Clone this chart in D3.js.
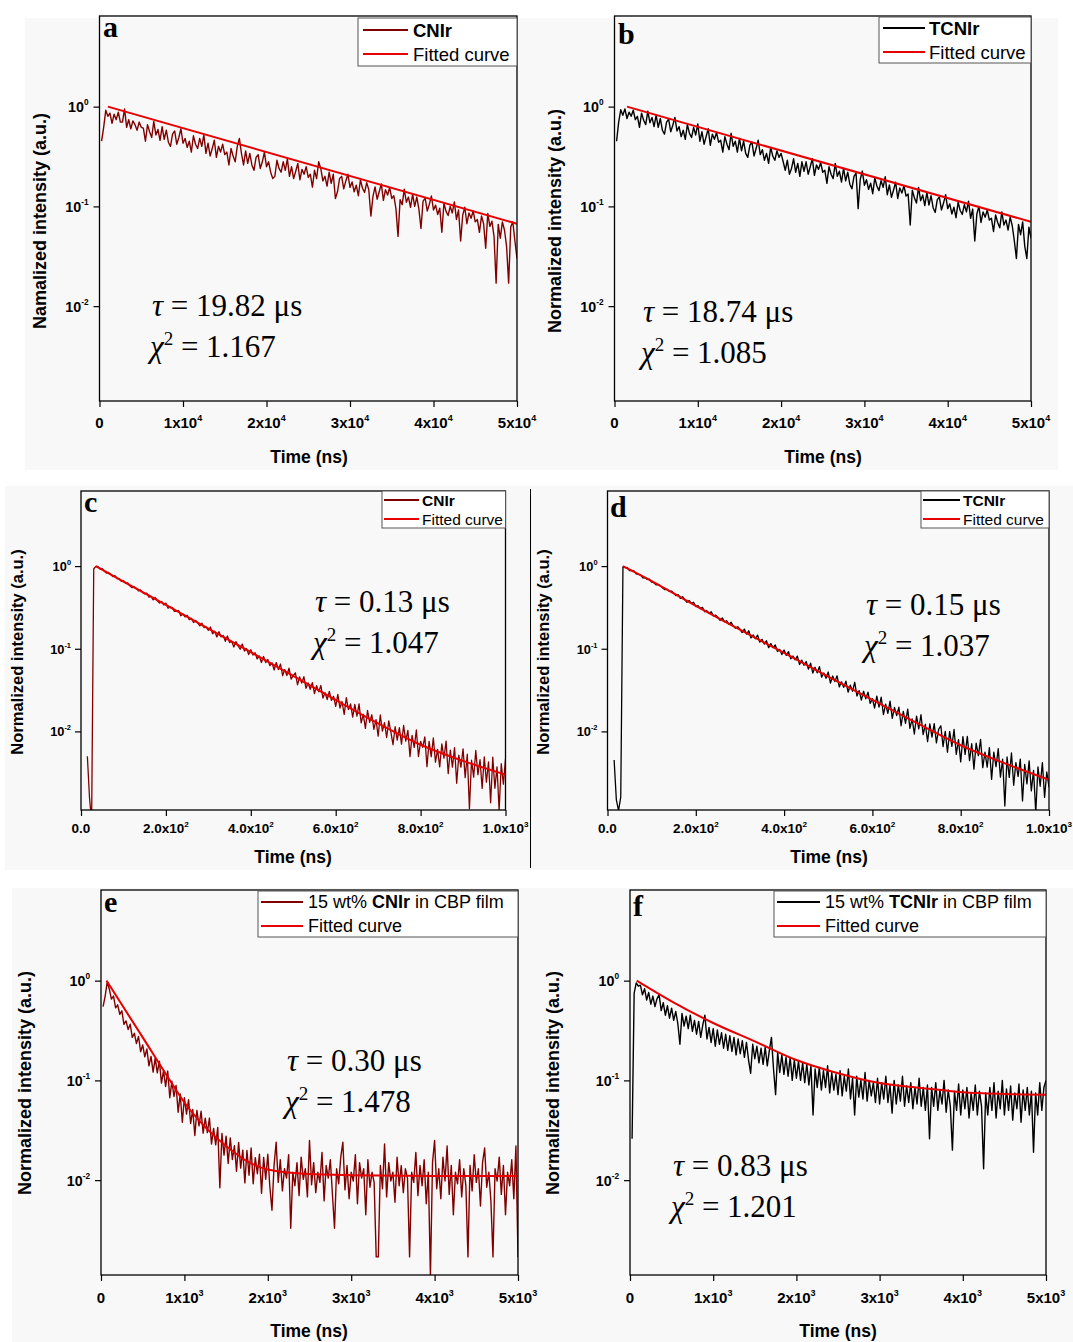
<!DOCTYPE html>
<html>
<head>
<meta charset="utf-8">
<script src="https://cdn.jsdelivr.net/npm/d3@7"></script>
<style>
  body { margin: 0; background: #fff; }
  svg text { font-family: "Liberation Sans", Arial, sans-serif; }
</style>
</head>
<body>
<svg id="fig" width="1073" height="1342"></svg>
<script>
const SERIF = '"Liberation Serif", "Times New Roman", serif';
const DARK_RED = "#800000";
const FIT_RED = "#e60000";

// shared log axis (normalized intensity)
const yTicks = [1, 0.1, 0.01];
const yTickExp = ["0", "-1", "-2"];
const yDomain = [1.12e-3, 8.1];

// time axes
const xTicksAB = [0, 1e4, 2e4, 3e4, 4e4, 5e4];
const xTickTextAB = [["0", ""], ["1x10", "4"], ["2x10", "4"], ["3x10", "4"], ["4x10", "4"], ["5x10", "4"]];
const xTicksCD = [0, 200, 400, 600, 800, 1000];
const xTickTextCD = [["0.0", ""], ["2.0x10", "2"], ["4.0x10", "2"], ["6.0x10", "2"], ["8.0x10", "2"], ["1.0x10", "3"]];
const xTicksEF = [0, 1000, 2000, 3000, 4000, 5000];
const xTickTextEF = [["0", ""], ["1x10", "3"], ["2x10", "3"], ["3x10", "3"], ["4x10", "3"], ["5x10", "3"]];

// a: CNIr, channels every 250 ns from 250 ns
const decayA = [
  0.45, 0.62, 0.92, 0.80, 0.86, 0.68, 0.84, 0.74, 0.88, 0.70,
  0.70, 0.95, 0.62, 0.74, 0.60, 0.72, 0.66, 0.58, 0.70, 0.62,
  0.61, 0.45, 0.66, 0.56, 0.49, 0.71, 0.52, 0.59, 0.46, 0.63,
  0.47, 0.58, 0.44, 0.40, 0.53, 0.57, 0.42, 0.49, 0.60, 0.43,
  0.48, 0.39, 0.45, 0.35, 0.51, 0.42, 0.38, 0.48, 0.40, 0.52,
  0.34, 0.43, 0.32, 0.38, 0.46, 0.31, 0.40, 0.35, 0.42, 0.33,
  0.35, 0.26, 0.38, 0.32, 0.28, 0.40, 0.48, 0.34, 0.26, 0.36,
  0.27, 0.34, 0.26, 0.23, 0.31, 0.33, 0.24, 0.28, 0.35, 0.25,
  0.28, 0.22, 0.19, 0.20, 0.29, 0.24, 0.22, 0.28, 0.23, 0.30,
  0.20, 0.25, 0.19, 0.225, 0.27, 0.185, 0.235, 0.21, 0.25, 0.195,
  0.21, 0.156, 0.23, 0.19, 0.28, 0.24, 0.18, 0.20, 0.16, 0.22,
  0.17, 0.21, 0.12, 0.14, 0.19, 0.20, 0.15, 0.18, 0.21, 0.155,
  0.176, 0.14, 0.163, 0.128, 0.184, 0.152, 0.138, 0.173, 0.147, 0.08,
  0.126, 0.157, 0.118, 0.14, 0.168, 0.115, 0.147, 0.13, 0.154, 0.12,
  0.128, 0.095, 0.05, 0.117, 0.104, 0.149, 0.11, 0.124, 0.098, 0.133,
  0.10, 0.124, 0.094, 0.06, 0.113, 0.121, 0.09, 0.105, 0.127, 0.092,
  0.103, 0.083, 0.096, 0.055, 0.108, 0.089, 0.081, 0.10, 0.086, 0.111,
  0.074, 0.092, 0.045, 0.082, 0.098, 0.067, 0.086, 0.076, 0.09, 0.07,
  0.074, 0.055, 0.08, 0.067, 0.038, 0.085, 0.063, 0.071, 0.05, 0.017,
  0.066, 0.048, 0.07, 0.058, 0.04, 0.017, 0.062, 0.07, 0.045, 0.03
];
const fitATime = [1000, 50000];
const fitAValue = [1.0, 0.067];

// b: TCNIr, channels every 250 ns from 250 ns
const decayB = [
  0.45, 0.70, 0.93, 0.82, 0.95, 0.76, 0.88, 0.80, 0.92, 0.74,
  0.80, 0.62, 0.86, 0.73, 0.66, 0.90, 0.69, 0.78, 0.63, 0.82,
  0.62, 0.76, 0.58, 0.53, 0.70, 0.75, 0.56, 0.65, 0.78, 0.57,
  0.63, 0.50, 0.58, 0.47, 0.66, 0.54, 0.49, 0.62, 0.52, 0.67,
  0.45, 0.56, 0.42, 0.50, 0.60, 0.41, 0.53, 0.47, 0.55, 0.44,
  0.46, 0.35, 0.50, 0.42, 0.37, 0.54, 0.40, 0.45, 0.35, 0.48,
  0.36, 0.45, 0.34, 0.31, 0.41, 0.44, 0.32, 0.38, 0.46, 0.33,
  0.37, 0.29, 0.34, 0.27, 0.39, 0.32, 0.29, 0.36, 0.31, 0.34,
  0.28, 0.23, 0.29, 0.21, 0.24, 0.30, 0.22, 0.27, 0.20, 0.28,
  0.225, 0.28, 0.21, 0.25, 0.30, 0.205, 0.26, 0.235, 0.275, 0.22,
  0.23, 0.17, 0.25, 0.21, 0.19, 0.27, 0.20, 0.225, 0.175, 0.24,
  0.18, 0.22, 0.167, 0.15, 0.20, 0.215, 0.095, 0.186, 0.226, 0.163,
  0.185, 0.148, 0.171, 0.134, 0.193, 0.16, 0.144, 0.181, 0.155, 0.198,
  0.131, 0.164, 0.123, 0.146, 0.175, 0.12, 0.153, 0.136, 0.161, 0.127,
  0.133, 0.065, 0.145, 0.122, 0.108, 0.155, 0.114, 0.13, 0.102, 0.138,
  0.103, 0.128, 0.097, 0.087, 0.117, 0.124, 0.092, 0.108, 0.131, 0.095,
  0.106, 0.084, 0.098, 0.077, 0.11, 0.091, 0.083, 0.104, 0.088, 0.113,
  0.076, 0.094, 0.045, 0.084, 0.10, 0.069, 0.088, 0.078, 0.092, 0.073,
  0.076, 0.056, 0.082, 0.069, 0.061, 0.088, 0.065, 0.073, 0.058, 0.078,
  0.064, 0.045, 0.03, 0.066, 0.052, 0.07, 0.04, 0.03, 0.062, 0.048
];
const fitBTime = [1500, 50000];
const fitBValue = [1.0, 0.07];

// c: CNIr, channels every 5 ns from 15 ns
const decayC = [
  0.005, 0.0016, 0.0008, 0.93, 0.99,
  0.987, 0.917, 0.933, 0.868, 0.823, 0.837, 0.794, 0.745, 0.765, 0.705,
  0.703, 0.653, 0.665, 0.624, 0.628, 0.578, 0.548, 0.564, 0.540, 0.501,
  0.515, 0.479, 0.460,
  0.471, 0.421, 0.432, 0.390, 0.417, 0.380, 0.357, 0.374, 0.338, 0.357,
  0.310, 0.318, 0.317, 0.283, 0.283, 0.290, 0.251, 0.264, 0.243, 0.254,
  0.225, 0.234, 0.208, 0.220, 0.205, 0.189, 0.204, 0.180, 0.184, 0.167,
  0.183, 0.152, 0.163, 0.139, 0.161, 0.139, 0.145, 0.123, 0.143, 0.119,
  0.123, 0.105, 0.122, 0.108, 0.0986, 0.114, 0.0937, 0.1004, 0.085, 0.0975,
  0.0839, 0.0897, 0.0753, 0.0816, 0.0682, 0.0808, 0.0681, 0.0743, 0.0624, 0.0676,
  0.0554, 0.0681, 0.056, 0.0654, 0.0474, 0.056, 0.0475, 0.0584, 0.043, 0.0476,
  0.0511, 0.0367, 0.0457, 0.0384, 0.0459, 0.0333, 0.0386, 0.0323, 0.0389, 0.0286,
  0.0358, 0.0301, 0.0359, 0.0253, 0.0294, 0.0243, 0.0304, 0.0237, 0.0265, 0.0201,
  0.0281, 0.0192, 0.023, 0.0161, 0.0256, 0.0184, 0.0215, 0.0149, 0.0212, 0.0153,
  0.0215, 0.0127, 0.0161, 0.0109, 0.0179, 0.0129, 0.0159, 0.0106, 0.0139, 0.00875,
  0.0158, 0.0101, 0.0128, 0.00844, 0.0134, 0.00983, 0.0069, 0.0114, 0.00784, 0.0111,
  0.00703, 0.0118, 0.00764, 0.0103, 0.00496, 0.00894, 0.00641, 0.0104, 0.00497, 0.00759,
  0.00641, 0.00858, 0.00374, 0.00757, 0.00494, 0.00832, 0.00425, 0.00606, 0.00372, 0.00705,
  0.00474, 0.00764, 0.00309, 0.00595, 0.0037, 0.00636, 0.00236, 0.00516, 0.00369, 0.00616,
  0.00276, 0.0053, 0.00116, 0.00449, 0.0028, 0.00588, 0.003, 0.00454, 0.00204, 0.00491,
  0.00243, 0.00427, 0.00137, 0.00489, 0.00205, 0.00373, 0.00111, 0.00406, 0.0023, 0.00465
];
const fitCTime = [35, 100, 200, 300, 400, 500, 600, 700, 800, 900, 1000];
const fitCValue = [1.0, 0.65, 0.34, 0.175, 0.091, 0.047, 0.024, 0.0125, 0.0069, 0.0044, 0.0030];

// d: TCNIr, channels every 5 ns from 15 ns
const decayD = [
  0.0045, 0.0015, 0.0011, 0.0016, 0.98,
  0.958, 0.955, 0.879, 0.886, 0.873, 0.805, 0.794, 0.783, 0.721, 0.726,
  0.689, 0.693, 0.639, 0.630, 0.592, 0.602, 0.577, 0.542, 0.519, 0.527,
  0.495, 0.499, 0.469,
  0.439, 0.452, 0.407, 0.427, 0.393, 0.365, 0.383, 0.353, 0.365, 0.324,
  0.333, 0.306, 0.317, 0.280, 0.289, 0.268, 0.280, 0.249, 0.255, 0.240,
  0.220, 0.236, 0.212, 0.218, 0.197, 0.209, 0.188, 0.177, 0.185, 0.172,
  0.157, 0.173, 0.150, 0.165, 0.135, 0.147, 0.132, 0.146, 0.120, 0.130,
  0.114, 0.125, 0.103, 0.1155, 0.103, 0.111, 0.0927, 0.0984, 0.085, 0.0966,
  0.083, 0.0922, 0.0753, 0.0816, 0.0735, 0.0815, 0.0645, 0.0729, 0.0631, 0.0702,
  0.0566, 0.0669, 0.0507, 0.0597, 0.0512, 0.0608, 0.0454, 0.0509, 0.044, 0.0523,
  0.0384, 0.0468, 0.0402, 0.047, 0.0345, 0.0398, 0.0341, 0.0406, 0.0298, 0.0363,
  0.0306, 0.0393, 0.0268, 0.0312, 0.0239, 0.0306, 0.0248, 0.0299, 0.0218, 0.0249,
  0.0192, 0.0267, 0.0197, 0.0259, 0.016, 0.0214, 0.0165, 0.0233, 0.0144, 0.0195,
  0.0155, 0.0196, 0.0117, 0.0175, 0.0125, 0.0186, 0.0109, 0.0142, 0.0093, 0.0153,
  0.0107, 0.0159, 0.00914, 0.0122, 0.00754, 0.0123, 0.00853, 0.0124, 0.00727, 0.0106,
  0.0117, 0.00656, 0.01, 0.0056, 0.01, 0.0066, 0.01056, 0.00527, 0.00795, 0.00428,
  0.00864, 0.00528, 0.00871, 0.00442, 0.0071, 0.0035, 0.0072, 0.00508, 0.008, 0.00364,
  0.00563, 0.0037, 0.00636, 0.00263, 0.00562, 0.00375, 0.00617, 0.0028, 0.00462, 0.00125,
  0.00491, 0.00278, 0.00549, 0.00223, 0.00419, 0.00285, 0.00462, 0.00144, 0.00398, 0.00232,
  0.0044, 0.00191, 0.00338, 0.00104, 0.00372, 0.00217, 0.0042, 0.00159, 0.00323, 0.00211
];
const fitDTime = [35, 100, 200, 300, 400, 500, 600, 700, 800, 900, 1000];
const fitDValue = [1.0, 0.66, 0.33, 0.17, 0.089, 0.046, 0.024, 0.0127, 0.0068, 0.0041, 0.0026];

// e: 15 wt% CNIr in CBP film, channels every 25 ns from 25 ns
const decayE = [
  0.55, 0.70, 0.97, 0.82, 0.654, 0.70, 0.533, 0.572, 0.46, 0.498,
  0.365, 0.395, 0.324, 0.366, 0.27, 0.297, 0.234, 0.276, 0.194, 0.227,
  0.172, 0.207, 0.14, 0.174, 0.121, 0.167, 0.119, 0.156, 0.094, 0.125,
  0.087, 0.124, 0.067, 0.098, 0.069, 0.089, 0.048, 0.073, 0.038, 0.067,
  0.046, 0.064, 0.037, 0.051, 0.028, 0.05, 0.035, 0.049, 0.0296, 0.0418,
  0.03, 0.0419, 0.023, 0.033, 0.0226, 0.0338, 0.0084, 0.0294, 0.0178, 0.0276,
  0.0147, 0.0265, 0.0161, 0.0221, 0.0123, 0.0239, 0.0132, 0.02, 0.0094, 0.0198,
  0.0112, 0.021, 0.0092, 0.0168, 0.0116, 0.0182, 0.0074, 0.0169, 0.0102, 0.0182,
  0.0085, 0.005, 0.014, 0.024, 0.0095, 0.016, 0.0078, 0.013, 0.0105, 0.018,
  0.0033, 0.012, 0.0088, 0.015, 0.007, 0.017, 0.0102, 0.013, 0.0068, 0.025,
  0.009, 0.015, 0.0075, 0.012, 0.0095, 0.019, 0.0062, 0.014, 0.0105, 0.016,
  0.0072, 0.0033, 0.013, 0.0092, 0.017, 0.024, 0.008, 0.014, 0.0065, 0.012,
  0.0098, 0.018, 0.0058, 0.015, 0.0105, 0.013, 0.0045, 0.016, 0.0085, 0.012,
  0.0095, 0.0017, 0.0017, 0.014, 0.0082, 0.023, 0.0068, 0.015, 0.0098, 0.012,
  0.006, 0.017, 0.0088, 0.014, 0.0075, 0.013, 0.0105, 0.0017, 0.012, 0.0095,
  0.019, 0.007, 0.014, 0.0088, 0.016, 0.0058, 0.012, 0.0011, 0.015, 0.025,
  0.0082, 0.013, 0.0065, 0.017, 0.0098, 0.022, 0.0072, 0.014, 0.0045, 0.012,
  0.0092, 0.016, 0.0068, 0.013, 0.0088, 0.0017, 0.014, 0.0078, 0.018, 0.0095,
  0.013, 0.0055, 0.015, 0.021, 0.0085, 0.012, 0.0062, 0.0017, 0.013, 0.0098,
  0.017, 0.0072, 0.014, 0.0045, 0.012, 0.0088, 0.016, 0.0065, 0.022, 0.0017
];
const fitETime = [66, 500, 810, 1000, 1250, 1500, 1750, 2000, 2500, 3000, 4000, 5000];
const fitEValue = [1.0, 0.27, 0.105, 0.06, 0.034, 0.022, 0.0155, 0.0128, 0.0115, 0.0112, 0.011, 0.011];

// f: 15 wt% TCNIr in CBP film, channels every 25 ns from 25 ns
const decayF = [
  0.026, 0.75, 0.95, 0.88,
  0.90, 0.72, 0.83, 0.64, 0.76, 0.58, 0.70, 0.55, 0.66, 0.72,
  0.50, 0.60, 0.45, 0.56, 0.42, 0.53, 0.40, 0.49, 0.37, 0.23,
  0.47, 0.35, 0.44, 0.33, 0.45, 0.31, 0.40, 0.29, 0.39, 0.27,
  0.36, 0.45, 0.26, 0.34, 0.24, 0.33, 0.22, 0.32, 0.23, 0.30,
  0.21, 0.29, 0.20, 0.28, 0.195, 0.27, 0.18, 0.26, 0.185, 0.25,
  0.17, 0.24, 0.16, 0.118, 0.23, 0.165, 0.22, 0.15, 0.21, 0.145,
  0.215, 0.14, 0.20, 0.27, 0.13, 0.072, 0.19, 0.12, 0.18, 0.115,
  0.17, 0.11, 0.17, 0.10, 0.16, 0.105, 0.155, 0.10, 0.15, 0.095,
  0.145, 0.09, 0.14, 0.045, 0.13, 0.085, 0.135, 0.08, 0.125, 0.085,
  0.14, 0.075, 0.12, 0.08, 0.115, 0.072, 0.125, 0.07, 0.11, 0.078,
  0.13, 0.065, 0.105, 0.045, 0.11, 0.068, 0.10, 0.065, 0.12, 0.062,
  0.10, 0.07, 0.095, 0.06, 0.105, 0.058, 0.095, 0.065, 0.11, 0.06,
  0.09, 0.047, 0.10, 0.058, 0.09, 0.062, 0.11, 0.055, 0.088, 0.06,
  0.095, 0.052, 0.085, 0.058, 0.105, 0.055, 0.085, 0.05, 0.09, 0.026,
  0.085, 0.055, 0.095, 0.05, 0.08, 0.058, 0.10, 0.048, 0.08, 0.055,
  0.02, 0.078, 0.05, 0.092, 0.045, 0.08, 0.052, 0.085, 0.042, 0.075,
  0.05, 0.09, 0.045, 0.078, 0.055, 0.013, 0.075, 0.045, 0.085, 0.05,
  0.095, 0.042, 0.078, 0.052, 0.10, 0.045, 0.082, 0.05, 0.088, 0.04,
  0.075, 0.052, 0.092, 0.038, 0.08, 0.05, 0.085, 0.045, 0.078, 0.019,
  0.075, 0.045, 0.095, 0.05, 0.085, 0.10
];
const fitFTime = [80, 500, 1000, 1500, 2000, 2500, 3000, 3500, 4000, 4500, 5000];
const fitFValue = [1.0, 0.62, 0.376, 0.246, 0.16, 0.118, 0.094, 0.084, 0.076, 0.073, 0.0717];

const panels = [
  { key: "a", l: 99.5, r: 517, t: 16, b: 401, xDomain: [0, 5e4], xTicks: xTicksAB, xTickText: xTickTextAB, xMinor: 5000,
    tickFont: 15, xLabelY: 428, yLabelGap: 11, lineW: 1.4,
    values: decayA, t0: 250, dt: 250, fitT: fitATime, fitV: fitAValue, color: DARK_RED,
    letter: "a", letterX: 103, letterY: 37,
    yTitle: "Namalized intensity (a.u.)", yTitleX: 40, yTitleY: 221, xTitleX: 309, xTitleY: 463,
    legend: { x: 358, y: 18, w: 159, h: 48, rowY: [30, 54], x1: 363, x2: 408, tx: 413, font: 18.5,
      row1: [["CNIr", true]] },
    tau: "19.82", chi: "1.167", annX: 152, annY: 316 },
  { key: "b", l: 614.5, r: 1031, t: 16, b: 401, xDomain: [0, 5e4], xTicks: xTicksAB, xTickText: xTickTextAB, xMinor: 5000,
    tickFont: 15, xLabelY: 428, yLabelGap: 11, lineW: 1.4,
    values: decayB, t0: 250, dt: 250, fitT: fitBTime, fitV: fitBValue, color: "#000",
    letter: "b", letterX: 618, letterY: 44,
    yTitle: "Normalized intensity (a.u.)", yTitleX: 555, yTitleY: 221, xTitleX: 823, xTitleY: 463,
    legend: { x: 879, y: 17, w: 152, h: 46, rowY: [28, 52], x1: 883, x2: 925, tx: 929, font: 18.5,
      row1: [["TCNIr", true]] },
    tau: "18.74", chi: "1.085", annX: 643, annY: 322 },
  { key: "c", l: 81, r: 505.5, t: 491, b: 810, xDomain: [0, 1000], xTicks: xTicksCD, xTickText: xTickTextCD, xMinor: 100,
    tickFont: 13.5, xLabelY: 833, yLabelGap: 10, lineW: 1.3,
    values: decayC, t0: 15, dt: 5, fitT: fitCTime, fitV: fitCValue, color: DARK_RED,
    letter: "c", letterX: 84, letterY: 512,
    yTitle: "Normalized intensity (a.u.)", yTitleX: 17, yTitleY: 652, xTitleX: 293, xTitleY: 863,
    legend: { x: 382, y: 491, w: 123.5, h: 37, rowY: [500, 519], x1: 384, x2: 419, tx: 422, font: 15.5,
      row1: [["CNIr", true]] },
    tau: "0.13", chi: "1.047", annX: 315, annY: 612 },
  { key: "d", l: 607.5, r: 1049, t: 491, b: 810, xDomain: [0, 1000], xTicks: xTicksCD, xTickText: xTickTextCD, xMinor: 100,
    tickFont: 13.5, xLabelY: 833, yLabelGap: 10, lineW: 1.3,
    values: decayD, t0: 15, dt: 5, fitT: fitDTime, fitV: fitDValue, color: "#000",
    letter: "d", letterX: 610, letterY: 517,
    yTitle: "Normalized intensity (a.u.)", yTitleX: 543, yTitleY: 652, xTitleX: 829, xTitleY: 863,
    legend: { x: 921, y: 491, w: 128, h: 37, rowY: [500, 519], x1: 923, x2: 960, tx: 963, font: 15.5,
      row1: [["TCNIr", true]] },
    tau: "0.15", chi: "1.037", annX: 866, annY: 615 },
  { key: "e", l: 101, r: 518, t: 890, b: 1275, xDomain: [0, 5000], xTicks: xTicksEF, xTickText: xTickTextEF, xMinor: 500,
    tickFont: 15, xLabelY: 1303, yLabelGap: 11, lineW: 1.4,
    values: decayE, t0: 25, dt: 25, fitT: fitETime, fitV: fitEValue, color: DARK_RED,
    letter: "e", letterX: 104, letterY: 912,
    yTitle: "Normalized intensity (a.u.)", yTitleX: 25, yTitleY: 1083, xTitleX: 309, xTitleY: 1337,
    legend: { x: 258, y: 891, w: 260, h: 46, rowY: [902, 926], x1: 261, x2: 303, tx: 308, font: 18,
      row1: [["15 wt% ", false], ["CNIr", true], [" in CBP film", false]] },
    tau: "0.30", chi: "1.478", annX: 287, annY: 1071 },
  { key: "f", l: 630, r: 1046, t: 890, b: 1275, xDomain: [0, 5000], xTicks: xTicksEF, xTickText: xTickTextEF, xMinor: 500,
    tickFont: 15, xLabelY: 1303, yLabelGap: 11, lineW: 1.4,
    values: decayF, t0: 25, dt: 25, fitT: fitFTime, fitV: fitFValue, color: "#000",
    letter: "f", letterX: 633, letterY: 916,
    yTitle: "Normalized intensity (a.u.)", yTitleX: 553, yTitleY: 1083, xTitleX: 838, xTitleY: 1337,
    legend: { x: 774, y: 891, w: 272, h: 46, rowY: [902, 926], x1: 777, x2: 820, tx: 825, font: 18,
      row1: [["15 wt% ", false], ["TCNIr", true], [" in CBP film", false]] },
    tau: "0.83", chi: "1.201", annX: 673, annY: 1176 }
];

const svg = d3.select("#fig");

// faint scanned background behind each row of panels
[[25, 18, 1033, 452], [5, 486, 1068, 384], [12, 888, 1061, 454]].forEach(([x, y, w, h]) => {
  svg.append("rect").attr("x", x).attr("y", y).attr("width", w).attr("height", h).attr("fill", "#f8f8f8");
});

// separator between c and d
svg.append("line").attr("x1", 530.5).attr("x2", 530.5).attr("y1", 489).attr("y2", 868)
  .attr("stroke", "#000").attr("stroke-width", 1);

const drawPanel = (p) => {
  const g = svg.append("g");
  const x = d3.scaleLinear().domain(p.xDomain).range([p.l, p.r]);
  const y = d3.scaleLog().domain(yDomain).range([p.b, p.t]);

  const clipId = "clip-" + p.key;
  svg.append("clipPath").attr("id", clipId).append("rect")
    .attr("x", p.l).attr("y", p.t).attr("width", p.r - p.l).attr("height", p.b - p.t);

  const pts = p.values.map((v, i) => ({ t: p.t0 + i * p.dt, v: v }));
  g.append("path").datum(pts)
    .attr("clip-path", `url(#${clipId})`)
    .attr("fill", "none").attr("stroke", p.color).attr("stroke-width", p.lineW)
    .attr("stroke-linejoin", "round")
    .attr("d", d3.line().x((d) => x(d.t)).y((d) => y(d.v)));

  const fit = p.fitT.map((t, i) => ({ t: t, v: p.fitV[i] }));
  g.append("path").datum(fit)
    .attr("clip-path", `url(#${clipId})`)
    .attr("fill", "none").attr("stroke", FIT_RED).attr("stroke-width", 2)
    .attr("d", d3.line().curve(d3.curveMonotoneX).x((d) => x(d.t)).y((d) => y(d.v)));

  // frame
  g.append("rect").attr("x", p.l).attr("y", p.t).attr("width", p.r - p.l).attr("height", p.b - p.t)
    .attr("fill", "none").attr("stroke", "#000").attr("stroke-width", 1.3);

  // x axis: major + minor ticks
  const minorX = d3.range(p.xDomain[0], p.xDomain[1] + 1e-6, p.xMinor);
  const ax = g.append("g").attr("transform", `translate(0,${p.b})`);
  ax.call(d3.axisBottom(x).tickValues(minorX).tickSize(3).tickFormat(""));
  ax.call(d3.axisBottom(x).tickValues(p.xTicks).tickSize(6).tickFormat(""));
  ax.selectAll(".domain").remove();
  ax.selectAll("line").attr("stroke", "#000").attr("stroke-width", 1.2);

  p.xTicks.forEach((v, i) => {
    const [base, sup] = p.xTickText[i];
    const tx = g.append("text").attr("x", x(v)).attr("y", p.xLabelY)
      .attr("text-anchor", "middle").attr("font-weight", "bold").attr("font-size", p.tickFont);
    tx.append("tspan").text(base);
    if (sup) tx.append("tspan").attr("dy", -p.tickFont * 0.45).attr("font-size", p.tickFont * 0.6).text(sup);
  });

  // y axis: decades + 2..9 minor ticks
  const minorY = [];
  [1e-3, 1e-2, 1e-1, 1].forEach((dec) => {
    for (let k = 2; k <= 9; k++) {
      const v = k * dec;
      if (v >= yDomain[0] && v <= yDomain[1]) minorY.push(v);
    }
  });
  const ay = g.append("g").attr("transform", `translate(${p.l},0)`);
  ay.call(d3.axisLeft(y).tickValues(minorY).tickSize(3).tickFormat(""));
  ay.call(d3.axisLeft(y).tickValues(yTicks).tickSize(6).tickFormat(""));
  ay.selectAll(".domain").remove();
  ay.selectAll("line").attr("stroke", "#000").attr("stroke-width", 1.2);

  yTicks.forEach((v, i) => {
    const ty = g.append("text").attr("x", p.l - p.yLabelGap).attr("y", y(v) + p.tickFont * 0.36)
      .attr("text-anchor", "end").attr("font-weight", "bold").attr("font-size", p.tickFont * 0.95);
    ty.append("tspan").text("10");
    ty.append("tspan").attr("dy", -p.tickFont * 0.45).attr("font-size", p.tickFont * 0.55).text(yTickExp[i]);
  });

  // titles
  g.append("text").attr("x", p.xTitleX).attr("y", p.xTitleY).attr("text-anchor", "middle")
    .attr("font-weight", "bold").attr("font-size", 17.5).text("Time (ns)");
  g.append("text").attr("transform", `translate(${p.yTitleX},${p.yTitleY}) rotate(-90)`)
    .attr("text-anchor", "middle").attr("dy", "0.35em")
    .attr("font-weight", "bold").attr("font-size", p.key === "c" || p.key === "d" ? 16.5 : 18)
    .text(p.yTitle);

  // panel letter
  g.append("text").attr("x", p.letterX).attr("y", p.letterY)
    .style("font-family", SERIF).attr("font-weight", "bold").attr("font-size", 30).text(p.letter);

  // legend
  const lg = p.legend;
  g.append("rect").attr("x", lg.x).attr("y", lg.y).attr("width", lg.w).attr("height", lg.h)
    .attr("fill", "#fff").attr("stroke", "#555").attr("stroke-width", 1);
  [p.color, FIT_RED].forEach((c, i) => {
    g.append("line").attr("x1", lg.x1).attr("x2", lg.x2).attr("y1", lg.rowY[i]).attr("y2", lg.rowY[i])
      .attr("stroke", c).attr("stroke-width", 2);
  });
  const r1 = g.append("text").attr("x", lg.tx).attr("y", lg.rowY[0]).attr("dy", "0.36em").attr("font-size", lg.font);
  lg.row1.forEach(([s, bold]) => r1.append("tspan").attr("font-weight", bold ? "bold" : "normal").text(s));
  g.append("text").attr("x", lg.tx).attr("y", lg.rowY[1]).attr("dy", "0.36em").attr("font-size", lg.font)
    .text("Fitted curve");

  // lifetime annotation
  const a1 = g.append("text").attr("x", p.annX).attr("y", p.annY).attr("font-size", 31).style("font-family", SERIF);
  a1.append("tspan").attr("font-style", "italic").text("\u03c4");
  a1.append("tspan").text(" = " + p.tau + " \u03bcs");
  const a2 = g.append("text").attr("x", p.annX - 2).attr("y", p.annY + 41).attr("font-size", 31).style("font-family", SERIF);
  a2.append("tspan").attr("font-style", "italic").text("\u03c7");
  a2.append("tspan").attr("font-size", 19).attr("dy", -12).text("2");
  a2.append("tspan").attr("dy", 12).text(" = " + p.chi);
};

panels.forEach(drawPanel);
</script>
</body>
</html>
